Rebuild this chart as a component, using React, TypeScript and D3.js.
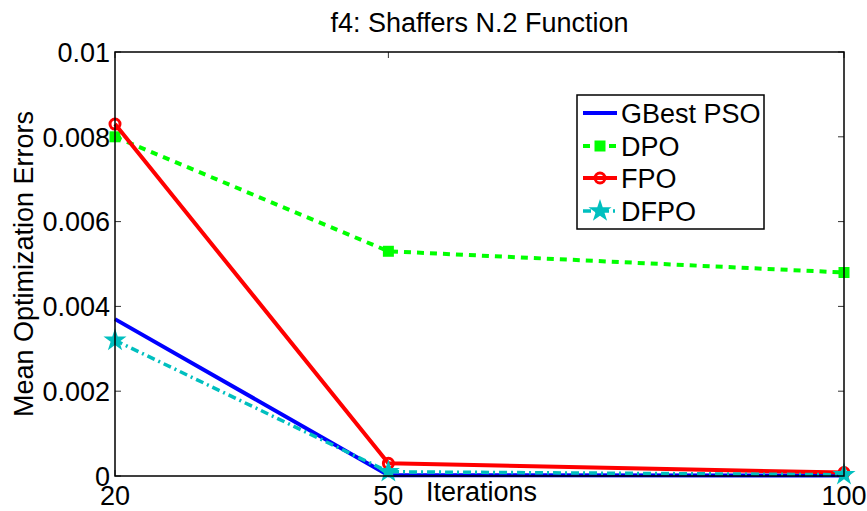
import React from "react";
import * as d3 from "d3";

const iterations = [20, 50, 100];
const seriesNames = ["GBest PSO", "DPO", "FPO", "DFPO"];
const gbestPso = [0.0037, 0.00002, 0.00001];
const dpo = [0.008, 0.0053, 0.0048];
const fpo = [0.0083, 0.0003, 0.00008];
const dfpo = [0.0032, 0.0001, 0.00003];
const yTicks = [0, 0.002, 0.004, 0.006, 0.008, 0.01];
const yTickLabels = ["0", "0.002", "0.004", "0.006", "0.008", "0.01"];
const xTickLabels = ["20", "50", "100"];

const W = 867;
const H = 511;
const M = { left: 115, right: 844, top: 52, bottom: 476 };
const FONT = "'Liberation Sans', Arial, Helvetica, sans-serif";
const FS = 27;

type Style = {
  color: string;
  width: number;
  dash?: string;
  marker: "none" | "square" | "circle" | "star";
};

const styles: Style[] = [
  { color: "#0000ff", width: 4, marker: "none" },
  { color: "#00ff00", width: 4, dash: "7,6", marker: "square" },
  { color: "#ff0000", width: 4, marker: "circle" },
  { color: "#00bfbf", width: 3.5, dash: "8,4,2,4", marker: "star" },
];

const seriesValues = [gbestPso, dpo, fpo, dfpo];

function Marker({ kind, x, y, color }: { kind: Style["marker"]; x: number; y: number; color: string }) {
  if (kind === "square") {
    const p = d3.symbol(d3.symbolSquare, 121)();
    return <path d={p || ""} transform={`translate(${x},${y})`} fill={color} />;
  }
  if (kind === "circle") {
    return <circle cx={x} cy={y} r={5} fill="none" stroke={color} strokeWidth={3} />;
  }
  if (kind === "star") {
    const p = d3.symbol(d3.symbolStar, 165)();
    return <path d={p || ""} transform={`translate(${x},${y})`} fill={color} />;
  }
  return null;
}

export default function App() {
  const x = d3.scaleLinear().domain([20, 100]).range([M.left, M.right]);
  const y = d3.scaleLinear().domain([0, 0.01]).range([M.bottom, M.top]);
  const line = d3
    .line<number>()
    .x((_, i) => x(iterations[i]))
    .y((v) => y(v));

  const legend = { x0: 577, y0: 95, x1: 764, y1: 229 };
  const legendRows = [113, 146, 178, 211];

  return (
    <svg
      width={W}
      height={H}
      style={{ position: "absolute", left: 0, top: 0, background: "#fff" }}
      fontFamily={FONT}
    >
      <rect x={0} y={0} width={W} height={H} fill="#fff" />
      {/* ticks, inward on all four sides */}
      {yTicks.map((t) => (
        <g key={`yt${t}`} stroke="#333" strokeWidth={1}>
          <line x1={M.left} x2={M.left + 6} y1={y(t)} y2={y(t)} />
          <line x1={M.right} x2={M.right - 6} y1={y(t)} y2={y(t)} />
        </g>
      ))}
      {iterations.map((t) => (
        <g key={`xt${t}`} stroke="#333" strokeWidth={1}>
          <line x1={x(t)} x2={x(t)} y1={M.bottom} y2={M.bottom - 6} />
          <line x1={x(t)} x2={x(t)} y1={M.top} y2={M.top + 6} />
        </g>
      ))}
      {/* series */}
      {seriesValues.map((vals, si) => {
        const s = styles[si];
        return (
          <g key={seriesNames[si]}>
            <path
              d={line(vals) || ""}
              fill="none"
              stroke={s.color}
              strokeWidth={s.width}
              strokeDasharray={s.dash}
              strokeLinejoin="round"
            />
            {vals.map((v, i) => (
              <Marker key={i} kind={s.marker} x={x(iterations[i])} y={y(v)} color={s.color} />
            ))}
          </g>
        );
      })}
      {/* axes box */}
      <rect
        x={M.left}
        y={M.top}
        width={M.right - M.left}
        height={M.bottom - M.top}
        fill="none"
        stroke="#000"
        strokeWidth={1.5}
      />
      {/* tick labels */}
      {yTicks.map((t, i) => (
        <text
          key={`yl${t}`}
          x={M.left - 5}
          y={y(t)}
          dy="0.36em"
          textAnchor="end"
          fontSize={FS}
          fill="#000"
        >
          {yTickLabels[i]}
        </text>
      ))}
      {iterations.map((t, i) => (
        <text key={`xl${t}`} x={x(t)} y={505} textAnchor="middle" fontSize={FS} fill="#000">
          {xTickLabels[i]}
        </text>
      ))}
      {/* axis titles */}
      <text x={(M.left + M.right) / 2 + 2} y={501} textAnchor="middle" fontSize={FS} fill="#000">
        Iterations
      </text>
      <text
        transform={`translate(33,264) rotate(-90)`}
        textAnchor="middle"
        fontSize={FS}
        fill="#000"
      >
        Mean Optimization Errors
      </text>
      <text x={(M.left + M.right) / 2} y={32} textAnchor="middle" fontSize={FS} fill="#000">
        f4: Shaffers N.2 Function
      </text>
      {/* legend */}
      <rect
        x={legend.x0}
        y={legend.y0}
        width={legend.x1 - legend.x0}
        height={legend.y1 - legend.y0}
        fill="#fff"
        stroke="#000"
        strokeWidth={1.5}
      />
      {seriesNames.map((name, i) => {
        const s = styles[i];
        const ly = legendRows[i];
        return (
          <g key={`lg${name}`}>
            <line
              x1={583}
              x2={617}
              y1={ly}
              y2={ly}
              stroke={s.color}
              strokeWidth={s.width}
              strokeDasharray={s.dash}
            />
            <Marker kind={s.marker} x={600} y={ly} color={s.color} />
            <text x={621} y={ly} dy="0.36em" fontSize={FS} fill="#000">
              {name}
            </text>
          </g>
        );
      })}
    </svg>
  );
}
